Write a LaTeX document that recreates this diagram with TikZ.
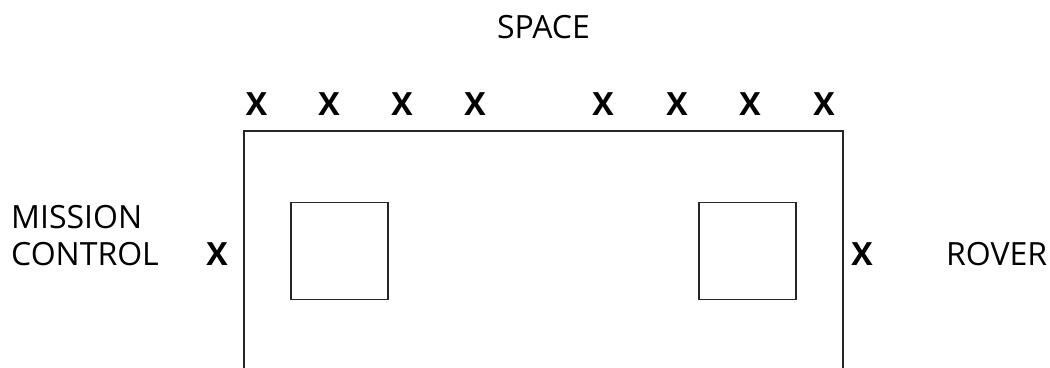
\documentclass[tikz,border=0pt]{standalone}
\usepackage{fontspec}
\setmainfont{Open Sans}
\begin{document}
\begin{tikzpicture}[x=1pt,y=-1pt,
  label/.style={font=\fontsize{32}{38}\selectfont, inner sep=0pt},
  mark x/.style={font=\fontsize{32}{38}\selectfont\bfseries, inner sep=0pt},
  wall/.style={line width=1.8pt, draw=black!85},
  pad/.style={wall, minimum size=97pt, inner sep=0pt}]
\useasboundingbox (0,0) rectangle (1050,367);

% title
\node[label, anchor=base] (space) at (543.5,38) {SPACE};

% row of markers above the frame
\foreach \i/\xx in {1/256.5,2/329,3/402,4/475,5/603,6/677,7/750,8/824}
  \node[mark x, anchor=base] (top\i) at (\xx,115) {X};

% open-bottom frame
\coordinate (fl) at (244,370);
\coordinate (ftl) at (244,131);
\coordinate (ftr) at (843,131);
\coordinate (fr) at (843,370);
\draw[wall] (fl) -- (ftl) -- (ftr) -- (fr);

% pads inside the frame
\node[pad] (padL) at (339.5,251) {};
\node[pad] (padR) at (747.5,251) {};

% side labels
\node[label, anchor=base west] (mission) at (11,228) {MISSION};
\node[label, anchor=base west] (control) at (11,265) {CONTROL};
\node[mark x, anchor=base] (xl) at (217,265) {X};
\node[mark x, anchor=base] (xr) at (862,265) {X};
\node[label, anchor=base west] (rover) at (946,265) {ROVER};
\end{tikzpicture}
\end{document}
